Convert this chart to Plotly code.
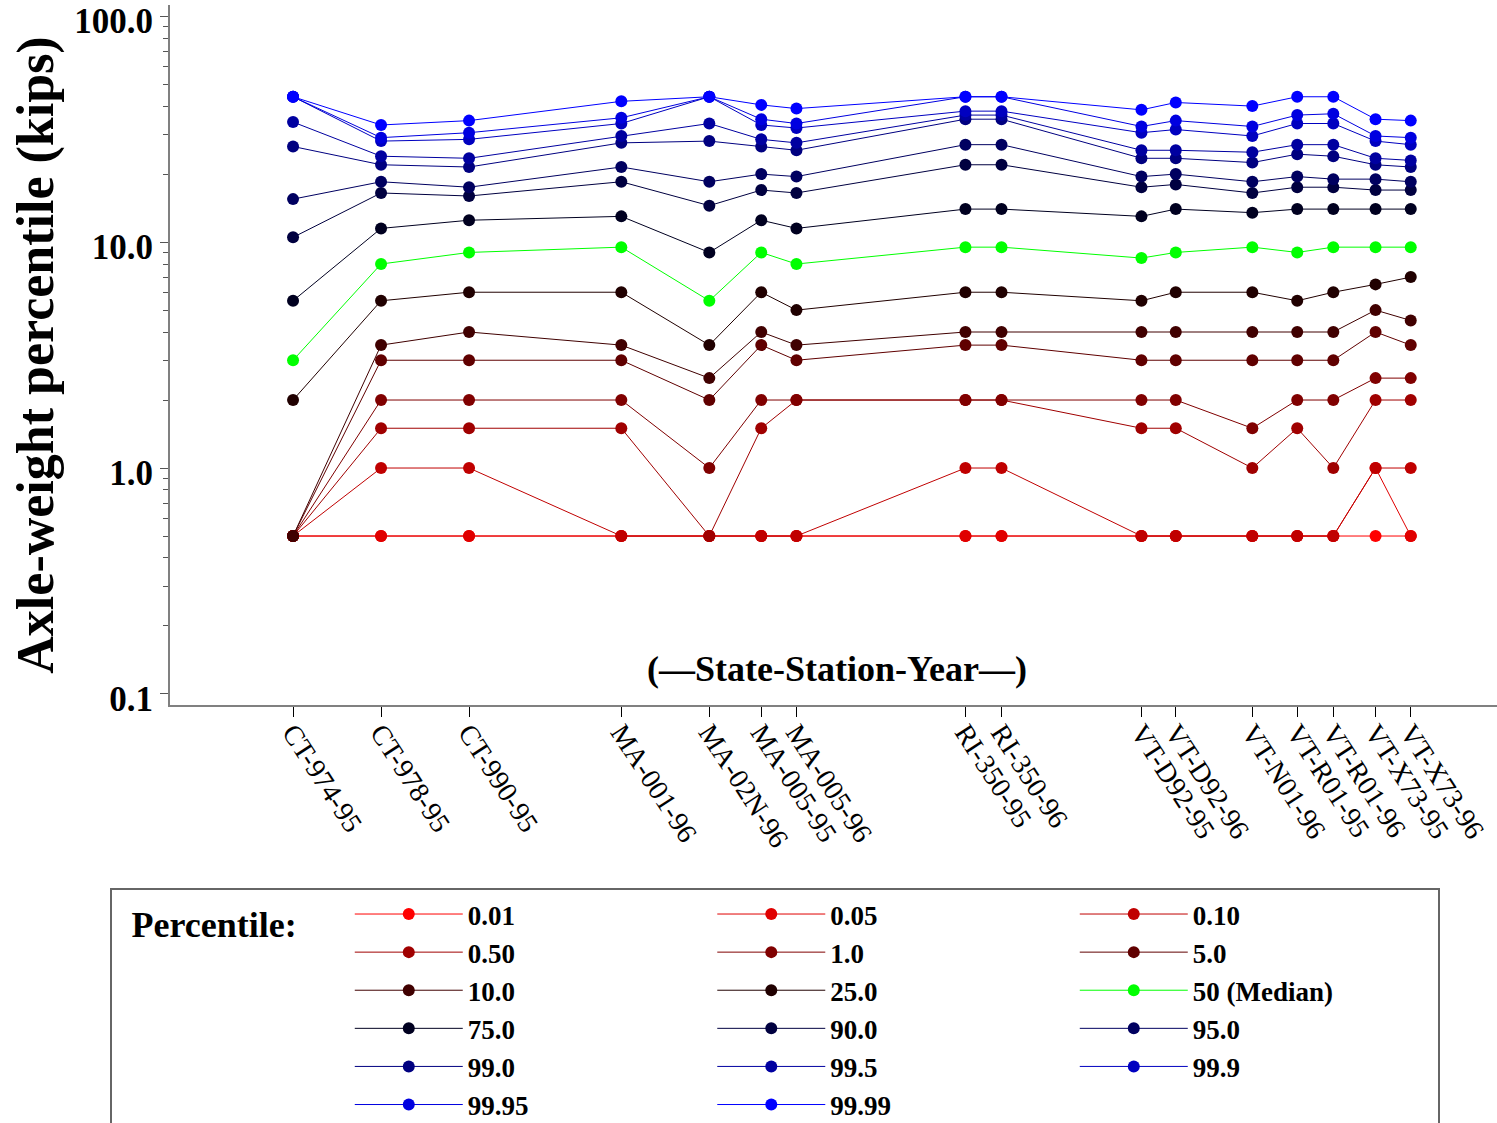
import plotly.graph_objects as go

stations = ["CT-974-95", "CT-978-95", "CT-990-95", "MA-001-96", "MA-02N-96",
            "MA-005-95", "MA-005-96", "RI-350-95", "RI-350-96", "VT-D92-95",
            "VT-D92-96", "VT-N01-96", "VT-R01-95", "VT-R01-96", "VT-X73-95",
            "VT-X73-96"]
station_pos = [0, 10, 20, 37.3, 47.3, 53.2, 57.2, 76.4, 80.5, 96.4,
               100.3, 109.0, 114.1, 118.2, 123.0, 127.0]

percentiles = ["0.01", "0.05", "0.10", "0.50", "1.0", "5.0", "10.0", "25.0",
               "50 (Median)", "75.0", "90.0", "95.0", "99.0", "99.5", "99.9",
               "99.95", "99.99"]
colors = ["#ff0000", "#e00000", "#c00000", "#a00000", "#800000", "#600000",
          "#400000", "#200000", "#00ff00", "#000020", "#000040", "#000060",
          "#000080", "#0000a0", "#0000c0", "#0000e0", "#0000ff"]

p0_01 = [0.5, 0.5, 0.5, 0.5, 0.5, 0.5, 0.5, 0.5, 0.5, 0.5, 0.5, 0.5, 0.5, 0.5, 0.5, 0.5]
p0_05 = [0.5, 0.5, 0.5, 0.5, 0.5, 0.5, 0.5, 0.5, 0.5, 0.5, 0.5, 0.5, 0.5, 0.5, 1.0, 0.5]
p0_10 = [0.5, 1.0, 1.0, 0.5, 0.5, 0.5, 0.5, 1.0, 1.0, 0.5, 0.5, 0.5, 0.5, 0.5, 1.0, 1.0]
p0_50 = [0.5, 1.5, 1.5, 1.5, 0.5, 1.5, 2.0, 2.0, 2.0, 1.5, 1.5, 1.0, 1.5, 1.0, 2.0, 2.0]
p1_0 = [0.5, 2.0, 2.0, 2.0, 1.0, 2.0, 2.0, 2.0, 2.0, 2.0, 2.0, 1.5, 2.0, 2.0, 2.5, 2.5]
p5_0 = [0.5, 3.0, 3.0, 3.0, 2.0, 3.5, 3.0, 3.5, 3.5, 3.0, 3.0, 3.0, 3.0, 3.0, 4.0, 3.5]
p10_0 = [0.5, 3.5, 4.0, 3.5, 2.5, 4.0, 3.5, 4.0, 4.0, 4.0, 4.0, 4.0, 4.0, 4.0, 5.0, 4.5]
p25_0 = [2.0, 5.5, 6.0, 6.0, 3.5, 6.0, 5.0, 6.0, 6.0, 5.5, 6.0, 6.0, 5.5, 6.0, 6.5, 7.0]
p50_0 = [3.0, 8.0, 9.0, 9.5, 5.5, 9.0, 8.0, 9.5, 9.5, 8.5, 9.0, 9.5, 9.0, 9.5, 9.5, 9.5]
p75_0 = [5.5, 11.5, 12.5, 13.0, 9.0, 12.5, 11.5, 14.0, 14.0, 13.0, 14.0, 13.5, 14.0, 14.0, 14.0, 14.0]
p90_0 = [10.5, 16.5, 16.0, 18.5, 14.5, 17.0, 16.5, 22.0, 22.0, 17.5, 18.0, 16.5, 17.5, 17.5, 17.0, 17.0]
p95_0 = [15.5, 18.5, 17.5, 21.5, 18.5, 20.0, 19.5, 27.0, 27.0, 19.5, 20.0, 18.5, 19.5, 19.0, 19.0, 18.5]
p99_0 = [26.5, 22.0, 21.5, 27.5, 28.0, 26.5, 25.5, 35.0, 35.0, 23.5, 23.5, 22.5, 24.5, 24.0, 22.0, 21.5]
p99_5 = [34.0, 24.0, 23.5, 29.5, 33.5, 28.5, 27.5, 36.5, 36.5, 25.5, 25.5, 25.0, 27.0, 27.0, 23.5, 23.0]
p99_9 = [44.0, 28.0, 28.5, 33.5, 44.0, 33.0, 32.0, 38.0, 38.0, 30.5, 31.5, 29.5, 33.5, 33.5, 28.0, 27.0]
p99_95 = [44.0, 29.0, 30.5, 35.5, 44.0, 35.0, 33.5, 44.0, 44.0, 32.5, 34.5, 32.5, 36.5, 37.0, 29.5, 29.0]
p99_99 = [44.0, 33.0, 34.5, 42.0, 44.0, 40.5, 39.0, 44.0, 44.0, 38.5, 41.5, 40.0, 44.0, 44.0, 35.0, 34.5]

series = [p0_01, p0_05, p0_10, p0_50, p1_0, p5_0, p10_0, p25_0, p50_0, p75_0,
          p90_0, p95_0, p99_0, p99_5, p99_9, p99_95, p99_99]

ytick_vals = [0.1, 1, 10, 100]
ytick_text = ["0.1", "1.0", "10.0", "100.0"]
decades = [0.1, 1, 10]
mantissas = [2, 3, 4, 5, 6, 7, 8, 9]
minor_vals = [m * d for d in decades for m in mantissas]

SERIF = "Liberation Serif, Times New Roman, serif"
NB = "\u00a0"

fig = go.Figure()
for name, vals, col in zip(percentiles, series, colors):
    fig.add_trace(go.Scatter(
        x=station_pos, y=vals, name=name, mode="lines+markers",
        line=dict(color=col, width=1),
        marker=dict(color=col, size=12),
    ))

fig.update_layout(
    width=1497, height=1123,
    margin=dict(l=170, r=0, t=5, b=418, autoexpand=False),
    paper_bgcolor="white", plot_bgcolor="white",
    font=dict(family=SERIF, color="black"),
    showlegend=True,
    legend=dict(
        orientation="h", x=0.9567, xanchor="right", y=-0.2614, yanchor="top",
        bordercolor="#666666", borderwidth=2, bgcolor="white",
        font=dict(family=SERIF, size=27, color="black", weight="bold"),
        title=dict(text=NB * 2 + "Percentile:" + NB * 5, side="left",
                   font=dict(family=SERIF, size=36, color="black", weight="bold")),
        itemwidth=108, entrywidth=239.5, traceorder="normal",
    ),
    annotations=[dict(
        text="(\u2014State-Station-Year\u2014)", xref="paper", yref="paper",
        x=0.5026, y=0.0514, xanchor="center", yanchor="middle", showarrow=False,
        font=dict(family=SERIF, size=36, color="black", weight="bold"),
    )],
)

fig.update_xaxes(
    range=[-13.98, 136.8], showgrid=False, zeroline=False,
    showline=True, linecolor="#808080", linewidth=2,
    tickmode="array", tickvals=station_pos, ticktext=stations,
    ticks="outside", ticklen=10, tickcolor="black", tickwidth=1,
    tickangle=57, ticklabelstandoff=-12,
    tickfont=dict(family=SERIF, size=28, color="black"),
)
fig.update_yaxes(
    type="log", range=[-1.049, 2.0496], showgrid=False, zeroline=False,
    showline=True, linecolor="#808080", linewidth=2,
    tickmode="array", tickvals=ytick_vals, ticktext=ytick_text,
    ticks="outside", ticklen=8, tickcolor="#555555", tickwidth=1,
    ticklabeloverflow="allow", ticklabelshift=5,
    tickfont=dict(family=SERIF, size=35, color="black", weight="bold"),
    minor=dict(ticks="outside", ticklen=5, tickcolor="#555555", tickwidth=1,
               tickmode="array", tickvals=minor_vals, showgrid=False),
    title=dict(text="Axle-weight percentile (kips)", standoff=4,
               font=dict(family=SERIF, size=52, color="black", weight="bold")),
)

fig.write_html("out.html")
